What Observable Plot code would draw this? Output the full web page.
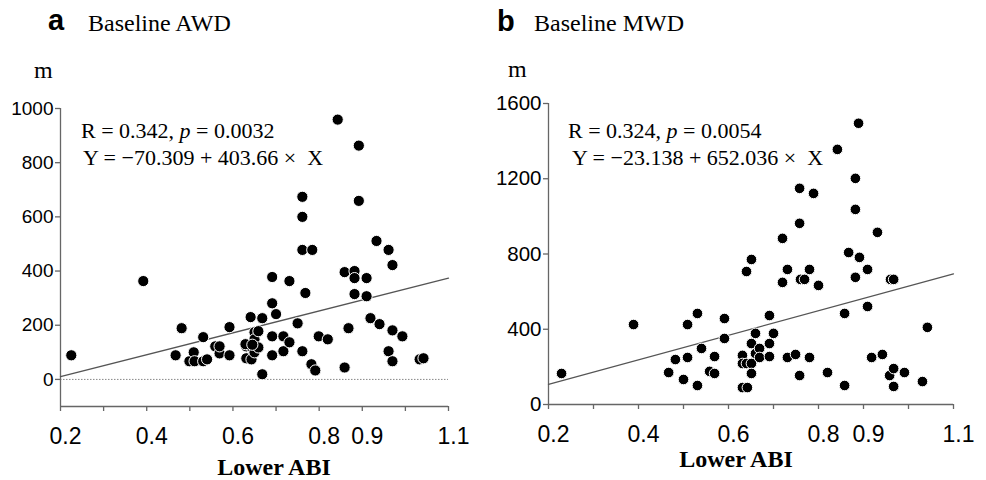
<!DOCTYPE html>
<html>
<head>
<meta charset="utf-8">
<script src="https://cdn.jsdelivr.net/npm/d3@7"></script>
<script src="https://cdn.jsdelivr.net/npm/@observablehq/plot@0.6"></script>
<style>
  html, body { margin: 0; padding: 0; background: #fff; }
  #wrap { position: relative; width: 986px; height: 480px; overflow: hidden; background: #fff; }
  #wrap > svg, #wrap > figure { position: absolute; top: 0; margin: 0; }
</style>
</head>
<body>
<div id="wrap"></div>
<script>
// ---- Panel a: Baseline AWD ----
const awdX = [0.225,0.392,0.467,0.481,0.499,0.509,0.511,0.531,0.531,0.540,0.559,0.569,0.569,0.592,0.592,
  0.631,0.631,0.641,0.641,0.643,0.650,0.650,0.650,0.659,0.659,0.668,0.668,0.691,0.691,0.691,0.691,0.700,
  0.717,0.717,0.731,0.731,0.750,0.761,0.761,0.761,0.784,0.768,0.761,0.782,0.791,0.799,0.820,0.843,0.859,
  0.859,0.868,0.882,0.882,0.882,0.892,0.892,0.910,0.910,0.919,0.933,0.940,0.961,0.970,0.970,0.993,0.961,
  0.970,1.033,1.042,0.629,0.645];
const awdY = [89,363,89,189,67,100,67,67,156,74,122,96,122,193,89,
  122,78,230,122,74,174,148,100,178,118,226,19,378,281,159,89,241,
  159,104,363,137,207,674,600,478,478,319,104,56,33,159,148,959,44,
  396,189,400,374,315,863,659,374,307,226,511,204,478,422,181,159,104,
  67,74,78,130,128];
const fitA = { intercept: -70.309, slope: 403.66 };
const xDomainA = [0.2, 1.1];
const yDomainA = [-100, 1000];
const yTicksA = [0, 200, 400, 600, 800, 1000];

// ---- Panel b: Baseline MWD ----
const mwdX = [0.229,0.389,0.467,0.482,0.500,0.509,0.509,0.531,0.531,0.540,0.558,0.569,0.569,0.591,0.591,
  0.631,0.631,0.631,0.642,0.640,0.651,0.651,0.651,0.660,0.660,0.669,0.669,0.691,0.691,0.691,0.700,0.731,
  0.749,0.758,0.780,0.820,0.858,0.858,0.909,0.918,0.942,0.958,0.967,0.967,0.991,1.031,1.042,
  0.640,0.651,0.720,0.720,0.731,0.758,0.758,0.760,0.769,0.780,0.789,0.800,0.842,0.889,0.867,0.882,0.882,
  0.882,0.891,0.909,0.931,0.960,0.967];
const mwdY = [165,425,170,239,133,425,250,484,101,298,176,255,165,457,351,
  261,218,90,90,218,324,218,165,378,271,298,250,473,324,255,378,250,
  266,154,250,170,484,101,521,250,266,154,191,96,170,122,410,
  707,771,649,883,718,963,1149,665,665,718,1122,633,1356,1495,808,676,1037,
  1202,782,718,915,665,665];
const fitB = { intercept: -23.138, slope: 652.036 };
const xDomainB = [0.2, 1.1];
const yDomainB = [0, 1600];
const yTicksB = [0, 400, 800, 1200, 1600];

// shared x ticks
const xTickMarks = [0.2,0.3,0.4,0.5,0.6,0.7,0.8,0.9,1.0,1.1];
const xTickLabelVals = [0.2,0.4,0.6,0.8,0.9,1.1];

const axisColor = "#666";
const sans = "'Liberation Sans', Arial, sans-serif";
const serif = "'Liberation Serif', 'Times New Roman', serif";

function panel({xs, ys, fit, xDomain, yDomain, yTicks, width, mL, mR, mT, mB, r, yFont}) {
  const pts = xs.map((x, i) => ({x, y: ys[i]}));
  const fitLine = xDomain.map(x => ({x, y: fit.intercept + fit.slope * x}));
  return Plot.plot({
    width, height: 480,
    marginLeft: mL, marginRight: mR, marginTop: mT, marginBottom: mB,
    x: {domain: xDomain, axis: null},
    y: {domain: yDomain, axis: null},
    style: {background: "transparent", fontFamily: sans, color: "#000", overflow: "visible"},
    marks: [
      yDomain[0] < 0 ? Plot.ruleY([0], {stroke: "#888", strokeWidth: 1, strokeDasharray: "1.5,1.5"}) : null,
      Plot.ruleX([xDomain[0]], {stroke: axisColor, strokeWidth: 1.3}),
      Plot.ruleY([yDomain[0]], {stroke: axisColor, strokeWidth: 1.3}),
      Plot.axisY({ticks: yTicks, tickSize: 5, tickPadding: 2, stroke: axisColor, strokeWidth: 1.3,
        fontSize: yFont, fontFamily: sans, fill: "#000", label: null, tickFormat: d => String(d)}),
      Plot.axisX({ticks: xTickMarks, tickSize: 5, stroke: axisColor, strokeWidth: 1.3,
        tickFormat: () => "", label: null}),
      Plot.axisX({ticks: xTickLabelVals, tickSize: 0, tickPadding: 21, dx: 5, fontSize: 23,
        fontFamily: sans, fill: "#000", label: null, tickFormat: d => String(d)}),
      Plot.line(fitLine, {x: "x", y: "y", stroke: "#555", strokeWidth: 1.3}),
      Plot.dot(pts, {x: "x", y: "y", r, fill: "#000", stroke: "#fff", strokeWidth: 1})
    ]
  });
}

const wrap = document.getElementById("wrap");
const pA = panel({xs: awdX, ys: awdY, fit: fitA, xDomain: xDomainA, yDomain: yDomainA, yTicks: yTicksA,
  width: 490, mL: 60, mR: 42, mT: 108, mB: 74, r: 5.6, yFont: 19});
pA.style.left = "0px";
wrap.appendChild(pA);
const pB = panel({xs: mwdX, ys: mwdY, fit: fitB, xDomain: xDomainB, yDomain: yDomainB, yTicks: yTicksB,
  width: 496, mL: 58, mR: 33, mT: 103, mB: 76, r: 5.3, yFont: 20.5});
pB.style.left = "490px";
wrap.appendChild(pB);

// ---- text overlay ----
const svg = d3.select(wrap).append("svg")
  .attr("width", 986).attr("height", 480)
  .style("left", "0px").style("pointer-events", "none");

function txt(x, y, s, o = {}) {
  return svg.append("text").attr("x", x).attr("y", y)
    .attr("font-family", o.family || serif)
    .attr("font-size", o.size || 22)
    .attr("font-weight", o.weight || "normal")
    .attr("text-anchor", o.anchor || "start")
    .attr("xml:space", "preserve")
    .attr("fill", "#000")
    .text(s);
}
function stats(x, y, rVal, pVal) {
  const t = svg.append("text").attr("x", x).attr("y", y)
    .attr("font-family", serif).attr("font-size", 22).attr("xml:space", "preserve");
  t.append("tspan").text(`R = ${rVal}, `);
  t.append("tspan").attr("font-style", "italic").text("p");
  t.append("tspan").text(` = ${pVal}`);
}

// panel a
txt(48, 30, "a", {family: sans, size: 29, weight: "bold"});
txt(88, 31, "Baseline AWD", {size: 24});
txt(34, 78, "m", {size: 24});
stats(81, 138, "0.342", "0.0032");
txt(83, 165, "Y = \u221270.309 + 403.66 \u00d7  X");
txt(274, 475, "Lower ABI", {size: 24, weight: "bold", anchor: "middle"});

// panel b
txt(497, 31, "b", {family: sans, size: 29, weight: "bold"});
txt(534, 31, "Baseline MWD", {size: 24});
txt(508, 77, "m", {size: 24});
stats(568, 138, "0.324", "0.0054");
txt(572, 165, "Y = \u221223.138 + 652.036 \u00d7  X");
txt(736, 467, "Lower ABI", {size: 24, weight: "bold", anchor: "middle"});
</script>
</body>
</html>
